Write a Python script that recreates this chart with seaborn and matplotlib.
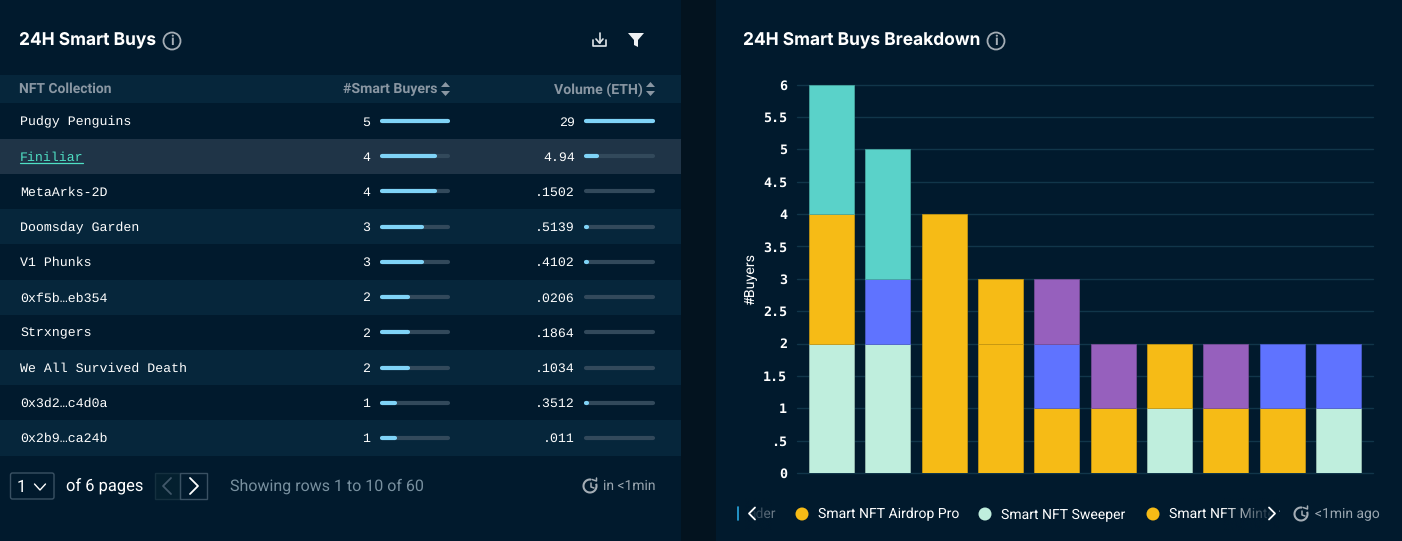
#!/usr/bin/env python3
import numpy as np
import pandas as pd
import matplotlib
matplotlib.use('Agg')
import matplotlib.pyplot as plt
import seaborn as sns
from matplotlib.colors import to_rgb
from matplotlib.patches import Circle, Rectangle, Polygon, Arc, FancyBboxPatch

# table data
collections = ['Pudgy Penguins', 'Finiliar', 'MetaArks-2D', 'Doomsday Garden', 'V1 Phunks',
               '0xf5b…eb354', 'Strxngers', 'We All Survived Death', '0x3d2…c4d0a', '0x2b9…ca24b']
smart_buyers = [5, 4, 4, 3, 3, 2, 2, 2, 1, 1]
volume_labels = ['29', '4.94', '.1502', '.5139', '.4102', '.0206', '.1864', '.1034', '.3512', '.011']
volume_eth = [29, 4.94, .1502, .5139, .4102, .0206, .1864, .1034, .3512, .011]

# stacked chart data, bottom to top
bar_ids = list(range(10))
airdrop_pro = [0, 0, 0, 2, 1, 1, 0, 1, 1, 0]
sweeper = [2, 2, 0, 0, 0, 0, 1, 0, 0, 1]
minter = [2, 0, 4, 1, 0, 0, 1, 0, 0, 0]
flipper = [0, 1, 0, 0, 1, 0, 0, 0, 1, 1]
trader = [0, 0, 0, 0, 1, 1, 0, 1, 0, 0]
whale = [2, 2, 0, 0, 0, 0, 0, 0, 0, 0]
y_ticks = [0, .5, 1, 1.5, 2, 2.5, 3, 3.5, 4, 4.5, 5, 5.5, 6]
y_tick_labels = ['0', '.5', '1', '1.5', '2', '2.5', '3', '3.5', '4', '4.5', '5', '5.5', '6']

W, H = 1402, 541
BG = '#011a2d'
GAP = '#03131f'
BAND = '#06263b'
HILITE = '#1f3447'
TRACK = '#32495b'
FILL = '#7fd3f7'
WHITE = '#ffffff'
GREY = '#8a97a3'
MONO = 'Liberation Mono'

palette = {'Airdrop Pro': '#f6bb16', 'Sweeper': '#bfeedd', 'Minter': '#f6bb16',
           'Flipper': '#5f73ff', 'Trader': '#9660bd', 'Whale': '#5ad2c9'}

sns.set_style('dark')
plt.rcParams['font.family'] = ['Roboto', 'DejaVu Sans']
plt.rcParams['text.hinting'] = 'no_hinting'


def px_axes(fig, left, top, right, bottom):
    """ピクセル座標でAxesを作成"""
    return fig.add_axes([left / W, 1 - bottom / H, (right - left) / W, (bottom - top) / H])


def info_icon(ax, x, y):
    ax.add_patch(Circle((x, y), 8.5, fill=False, ec='#a4adb5', lw=1.3))
    ax.text(x, y + .5, 'i', color='#a4adb5', fontsize=10, ha='center', va='center', fontweight='bold')


def clock_icon(ax, x, y):
    ax.add_patch(Arc((x, y), 13, 13, theta1=-20, theta2=280, ec='#a4adb5', lw=1.5))
    ax.plot([x + 1, x + 1, x + 4], [y - 3, y + 1, y + 2], color='#a4adb5', lw=1.1)
    ax.plot([x + 2, x + 6.5, x + 6.5], [y - 6.5, y - 5, y - 8], color='#a4adb5', lw=1.1)


def chevron(ax, x, y, direction, color, size=9, wx=4.5):
    ax.plot([x - direction * wx, x + direction * wx, x - direction * wx],
            [y - size, y, y + size], color=color, lw=1.3)


fig = plt.figure(figsize=(W / 100, H / 100), dpi=100, facecolor=BG)

# 背景レイヤー
bg = fig.add_axes([0, 0, 1, 1])
bg.set_xlim(0, W)
bg.set_ylim(H, 0)
bg.axis('off')
bg.add_patch(Rectangle((681, 0), 35, H, color=GAP, lw=0))
bg.add_patch(Rectangle((0, 75), 681, 28, color=BAND, lw=0))

row_h = 35.2
row_top = 103.5
for i, name in enumerate(collections):
    top = row_top + i * row_h
    if i == 1:
        bg.add_patch(Rectangle((0, top), 681, row_h, color=HILITE, lw=0))
    elif i % 2 == 1:
        bg.add_patch(Rectangle((0, top), 681, row_h, color=BAND, lw=0))
    mid = top + row_h / 2
    bg.text(20, mid + 1, name, family=MONO, fontsize=9.5, va='center',
            color='#4fe0c4' if i == 1 else WHITE)
    if i == 1:
        bg.plot([20, 83], [mid + 7, mid + 7], color='#4fe0c4', lw=.9)
    bg.text(370, mid + 1, str(smart_buyers[i]), family=MONO, fontsize=9.5, va='center', ha='right', color=WHITE)
    bg.text(575, mid + 1, volume_labels[i], family=MONO, fontsize=9.5, va='center', ha='right', color=WHITE)

# タイトルとヘッダー
bg.text(19, 40, '24H Smart Buys', family='Inter', fontsize=12.5, fontweight='bold', va='center', color=WHITE)
info_icon(bg, 172, 41)
bg.text(743, 40, '24H Smart Buys Breakdown', family='Inter', fontsize=12.5, fontweight='bold', va='center', color=WHITE)
info_icon(bg, 996, 41)

bg.text(19, 89.5, 'NFT Collection', fontsize=10, fontweight='bold', va='center', color=GREY)
bg.text(437, 89.5, '#Smart Buyers', fontsize=10.2, fontweight='bold', va='center', ha='right', color=GREY)
bg.text(643, 89.5, 'Volume (ETH)', fontsize=10.2, fontweight='bold', va='center', ha='right', color=GREY)
for sx in (445.5, 650.5):
    bg.add_patch(Polygon([(sx - 4.5, 87), (sx + 4.5, 87), (sx, 82)], color=GREY, lw=0))
    bg.add_patch(Polygon([(sx - 4.5, 91), (sx + 4.5, 91), (sx, 96)], color=GREY, lw=0))

# ダウンロードとフィルター
bg.plot([593, 593, 606, 606], [40, 46, 46, 40], color='#dfe4e8', lw=1.2)
bg.plot([599.5, 599.5], [33, 43], color='#dfe4e8', lw=1.2)
bg.plot([596, 599.5, 603], [39, 43, 39], color='#dfe4e8', lw=1.2)
bg.add_patch(Polygon([(628, 33), (644, 33), (638, 40), (638, 47), (634, 45), (634, 40)], color='#eef1f3', lw=0))

# ページャー
bg.add_patch(FancyBboxPatch((10.5, 473), 43.5, 26, boxstyle='round,pad=0,rounding_size=2', fc='none', ec='#3a5163', lw=1))
bg.text(21, 487, '1', fontsize=12, va='center', ha='center', color=WHITE)
bg.plot([34.5, 40, 45.5], [484, 490, 484], color=WHITE, lw=1)
bg.text(66, 486.5, 'of 6 pages', fontsize=11.9, va='center', color=WHITE)
bg.add_patch(Rectangle((155, 473), 25, 26, fc='#04202f', ec='#15303f', lw=1))
bg.add_patch(Rectangle((180, 473), 27, 26, fc='none', ec='#3a5163', lw=1))
chevron(bg, 167, 486, -1, '#42586a', size=8, wx=4)
chevron(bg, 194, 486, 1, WHITE, size=8, wx=4)
bg.text(230, 486.5, 'Showing rows 1 to 10 of 60', fontsize=11.5, va='center', color='#78909f')
clock_icon(bg, 590, 486)
bg.text(603, 486.5, 'in <1min', fontsize=10, va='center', color='#9aa6b0')

# 凡例
bg.plot([738, 738], [507, 520], color='#29a8e0', lw=1.2)
bg.text(776, 514.5, 'ader', fontsize=10, va='center', ha='right', color='#6b7a87')
for dx, label, color in [(802, 'Smart NFT Airdrop Pro', palette['Airdrop Pro']),
                         (985, 'Smart NFT Sweeper', palette['Sweeper']),
                         (1153, 'Smart NFT Minter', palette['Minter'])]:
    bg.add_patch(Circle((dx, 514), 6.5, color=color, lw=0))
    t = bg.text(dx + 16, 514.5, label, fontsize=10.05, va='center', color=WHITE)
    if 'Minter' in label:
        t.set_clip_path(Rectangle((dx + 16, 500), 110, 30, transform=bg.transData))
grad = np.zeros((1, 60, 4))
grad[..., :3] = to_rgb(BG)
grad[..., 3] = np.clip(np.linspace(0, 1.1, 60), 0, 1)
bg.imshow(grad, extent=(1222, 1279, 530, 498), aspect='auto', zorder=5)
grad_left = grad[:, ::-1, :].copy()
bg.imshow(grad_left, extent=(745, 772, 530, 498), aspect='auto', zorder=5)
bg.set_xlim(0, W)
bg.set_ylim(H, 0)
chevron(bg, 752, 513.5, -1, WHITE, size=6, wx=3)
chevron(bg, 1272, 513.5, 1, WHITE, size=6, wx=3)
for line in bg.lines[-2:]:
    line.set_zorder(6)
clock_icon(bg, 1301, 514)
bg.text(1315, 514.5, '<1min ago', fontsize=10, va='center', color='#9aa6b0')


# テーブル内の進捗バー
def progress(left, right, values, vmax):
    ax = px_axes(fig, left, row_top, right, row_top + row_h * 10)
    ax.patch.set_alpha(0)
    ax.axis('off')
    ax.set_xlim(0, vmax)
    ax.set_ylim(9.5, -0.5)
    for row, val in enumerate(values):
        ax.plot([0, vmax], [row, row], color=TRACK, lw=3, solid_capstyle='round', clip_on=False)
        ax.plot([0, val], [row, row], color=FILL, lw=3, solid_capstyle='round', clip_on=False)


progress(382, 448, smart_buyers, 5)
progress(586, 653, volume_eth, 29)

# 積み上げ棒グラフ
series = {'Airdrop Pro': airdrop_pro, 'Sweeper': sweeper, 'Minter': minter,
          'Flipper': flipper, 'Trader': trader, 'Whale': whale}
df = pd.DataFrame([{'bar': b, 'labeler': name, 'buyers': v}
                   for name, vals in series.items() for b, v in zip(bar_ids, vals)])

ax = px_axes(fig, 797, 84.5, 1373, 473)
ax.patch.set_alpha(0)
# histplotの積み上げは先頭のhueが一番上になるので逆順で渡す
sns.histplot(data=df, x='bar', weights='buyers', hue='labeler', hue_order=list(series)[::-1],
             multiple='stack', discrete=True, shrink=0.8, palette=palette, alpha=1,
             linewidth=.7, legend=False, ax=ax)
for patch in list(ax.patches):
    if patch.get_height() == 0:
        patch.remove()
    else:
        r, g, b, _ = patch.get_facecolor()
        patch.set_edgecolor((r * .8, g * .8, b * .8, .8))

ax.set_xlim(-0.612, 9.612)
ax.set_ylim(0, 6)
ax.set_yticks(y_ticks)
ax.set_yticklabels(y_tick_labels, family='DejaVu Sans Mono', fontsize=9.6, fontweight='bold', color=WHITE)
ax.set_xticks([])
ax.set_xlabel('')
ax.set_ylabel('#Buyers', color=WHITE, fontsize=10.3)
ax.yaxis.set_label_coords((757 - 797) / 576, 0.5)
ax.tick_params(axis='y', length=0, pad=7)
ax.grid(False)
ax.set_axisbelow(True)
ax.yaxis.grid(True, color='#11364a', lw=1)
for s in ax.spines.values():
    s.set_visible(False)
for gl in ax.get_ygridlines():
    gl.set_clip_on(False)

plt.savefig('out.png', dpi=100, facecolor=BG)
plt.close()
